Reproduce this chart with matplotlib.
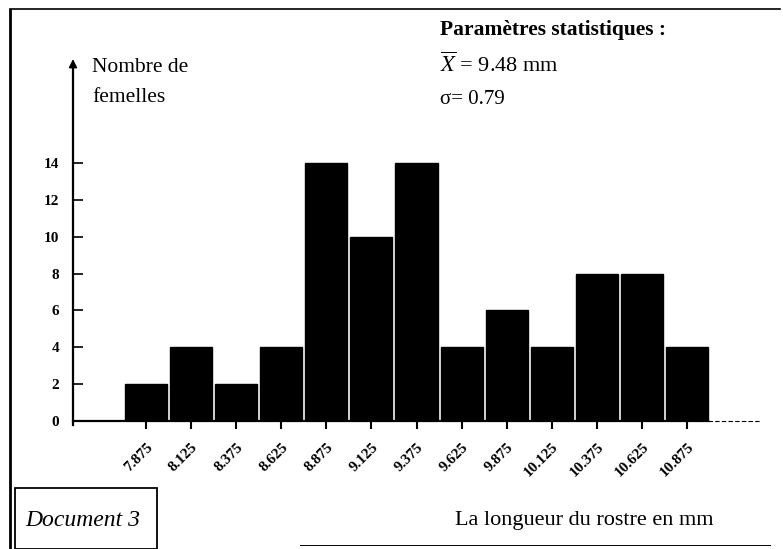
import matplotlib
matplotlib.use("Agg")
import matplotlib.pyplot as plt
from matplotlib.lines import Line2D
from matplotlib.patches import Rectangle

classes = [7.875, 8.125, 8.375, 8.625, 8.875, 9.125, 9.375, 9.625, 9.875, 10.125, 10.375, 10.625, 10.875]
counts = [2, 4, 2, 4, 14, 10, 14, 4, 6, 4, 8, 8, 4]
tick_labels = ["7.875", "8.125", "8.375", "8.625", "8.875", "9.125", "9.375", "9.625", "9.875", "10.125", "10.375", "10.625", "10.875"]
yticks = [0, 2, 4, 6, 8, 10, 12, 14]

plt.rcParams['font.family'] = ['Liberation Serif', 'DejaVu Serif']
plt.rcParams['mathtext.fontset'] = 'stix'

W, H = 783, 549
fig = plt.figure(figsize=(W / 100, H / 100), dpi=100)
fig.patch.set_facecolor('white')

x0, x1 = 73, 760
y0, y1 = 421, 60
ax = fig.add_axes([x0 / W, (H - y0) / H, (x1 - x0) / W, (y0 - y1) / H])
ax.set_facecolor('none')
ax.set_xlim(7.47, 11.28)
ax.set_ylim(0, 19.6)

ax.bar(classes, counts, width=0.233, color='black', edgecolor='black', zorder=2)

for s in ['top', 'right', 'bottom']:
    ax.spines[s].set_visible(False)
ax.spines['left'].set_linewidth(1.6)
ax.spines['left'].set_bounds(-0.2, 19.2)

# x axis line
ax.plot([7.47, 10.99], [0, 0], color='black', lw=1.6, zorder=3, clip_on=False)
ax.plot([10.99, 11.28], [0, 0], color='black', lw=0.8, ls=(0, (4, 2)), zorder=3, clip_on=False)

# arrow on y axis
ax.annotate('', xy=(7.47, 19.8), xytext=(7.47, 18.8),
            arrowprops=dict(arrowstyle='-|>', color='black', lw=1.2, mutation_scale=12),
            annotation_clip=False)

ax.set_yticks(yticks)
ax.set_yticklabels([str(v) for v in yticks], fontsize=11, fontweight='bold')
ax.tick_params(axis='y', direction='in', length=7, width=1.2, pad=10)

ax.set_xticks(classes)
ax.set_xticklabels(tick_labels, rotation=45, ha='right', va='top', rotation_mode='anchor',
                   fontsize=11, fontweight='bold')
ax.tick_params(axis='x', direction='out', length=6, width=1.5, pad=8)

# texts
fig.text(440 / W, 1 - 30 / H, "Paramètres statistiques :", fontsize=15.5, fontweight='bold', va='center')
fig.text(440 / W, 1 - 65 / H, r"$\overline{X}$ = 9.48 mm", fontsize=16, va='center')
fig.text(440 / W, 1 - 100 / H, "σ= 0.79", fontsize=15, va='center')
fig.text(92 / W, 1 - 67 / H, "Nombre de", fontsize=15.5, va='center')
fig.text(92 / W, 1 - 97 / H, "femelles", fontsize=15.5, va='center')
fig.text(455 / W, 1 - 521 / H, "La longueur du rostre en mm", fontsize=16, va='center')
fig.text(25 / W, 1 - 520 / H, "Document 3", fontsize=17, style='italic', va='center')

# frame lines
fig.add_artist(Line2D([10 / W, 10 / W], [1 - 10 / H, 0], color='black', lw=2, transform=fig.transFigure))
fig.add_artist(Line2D([10 / W, 780 / W], [1 - 9 / H, 1 - 9 / H], color='black', lw=1.2, transform=fig.transFigure))
fig.add_artist(Rectangle((15 / W, 0), (157 - 15) / W, (549 - 488) / H, fill=False, ec='black', lw=1.3,
                         transform=fig.transFigure))
fig.add_artist(Line2D([300 / W, 770 / W], [1 - 545 / H, 1 - 545 / H], color='black', lw=0.7, transform=fig.transFigure))

fig.savefig('out.png', dpi=100)
